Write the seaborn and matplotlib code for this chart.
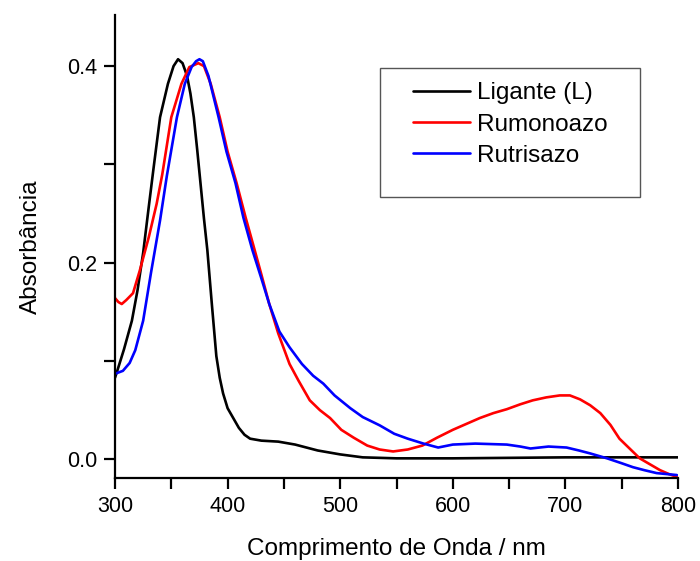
import numpy as np
import pandas as pd
import matplotlib
matplotlib.use("Agg")
import matplotlib.pyplot as plt
import seaborn as sns
from matplotlib.patches import Rectangle
from matplotlib.ticker import MultipleLocator, FormatStrFormatter

lig_wl = [300, 302, 308, 315, 320, 325, 330, 334, 340, 347, 352, 356, 360, 364, 367, 370, 373, 376,
          379, 382, 386, 390, 393, 396, 400, 405, 410, 415, 420, 430, 445, 460, 480, 500, 520, 550,
          600, 700, 800]
lig_a = [0.083, 0.09, 0.112, 0.141, 0.172, 0.21, 0.257, 0.294, 0.348, 0.382, 0.400, 0.407, 0.403,
         0.39, 0.372, 0.348, 0.315, 0.28, 0.245, 0.213, 0.158, 0.105, 0.083, 0.067, 0.052, 0.042,
         0.032, 0.025, 0.021, 0.019, 0.018, 0.015, 0.009, 0.005, 0.002, 0.001, 0.001, 0.002, 0.002]

rum_wl = [300, 303, 306, 310, 316, 322, 330, 337, 342, 350, 359, 366, 374, 379, 385, 393, 400, 408,
          416, 424, 430, 437, 445, 455, 463, 473, 482, 491, 501, 512, 524, 535, 547, 560, 573,
          586, 600, 612, 624, 636, 648, 660, 671, 683, 695, 704, 713, 722, 731, 740, 748, 757, 766,
          775, 784, 792, 799]
rum_a = [0.164, 0.160, 0.158, 0.162, 0.169, 0.192, 0.226, 0.26, 0.29, 0.348, 0.382, 0.399, 0.403,
         0.400, 0.382, 0.348, 0.313, 0.281, 0.246, 0.213, 0.188, 0.158, 0.128, 0.097, 0.080,
         0.060, 0.050, 0.042, 0.030, 0.022, 0.014, 0.010, 0.008, 0.010, 0.014, 0.022, 0.030, 0.036,
         0.042, 0.047, 0.051, 0.056, 0.060, 0.063, 0.065, 0.065, 0.061, 0.055, 0.047, 0.035, 0.021,
         0.011, 0.001, -0.005, -0.011, -0.015, -0.018]

rut_wl = [300, 307, 313, 318, 325, 332, 340, 346, 355, 362, 368, 372, 375, 378, 383, 392, 399, 407,
          414, 422, 430, 437, 446, 455, 466, 476, 485, 495, 509, 520, 535, 548, 560, 574, 587, 600,
          620, 648, 660, 669, 685, 701, 712, 722, 737, 750, 760, 770, 781, 790, 799]
rut_a = [0.087, 0.09, 0.098, 0.111, 0.141, 0.19, 0.243, 0.288, 0.348, 0.382, 0.399, 0.405, 0.407,
         0.405, 0.39, 0.348, 0.313, 0.281, 0.246, 0.213, 0.184, 0.158, 0.13, 0.114, 0.097, 0.085,
         0.077, 0.065, 0.052, 0.043, 0.0346, 0.026, 0.021, 0.016, 0.012, 0.015, 0.016, 0.015, 0.013,
         0.011, 0.013, 0.012, 0.009, 0.006, 0.001, -0.004, -0.008, -0.011, -0.014, -0.015, -0.016]

series_names = ["Ligante (L)", "Rumonoazo", "Rutrisazo"]
colors = ["#000000", "#ff0000", "#0000ff"]

df = pd.concat([
    pd.DataFrame({"wl": lig_wl, "A": lig_a, "s": series_names[0]}),
    pd.DataFrame({"wl": rum_wl, "A": rum_a, "s": series_names[1]}),
    pd.DataFrame({"wl": rut_wl, "A": rut_a, "s": series_names[2]}),
], ignore_index=True)

sns.set_style("ticks")
plt.rcParams["font.family"] = ["Liberation Sans", "DejaVu Sans"]
plt.rcParams["text.color"] = "black"
plt.rcParams["axes.labelcolor"] = "black"
plt.rcParams["xtick.color"] = "black"
plt.rcParams["ytick.color"] = "black"

W, H = 700, 561
fig = plt.figure(figsize=(W / 100, H / 100), dpi=100)
ax = fig.add_axes([115 / W, 83 / H, (678 - 115) / W, (478 - 15) / H])

sns.lineplot(data=df, x="wl", y="A", hue="s", palette=dict(zip(series_names, colors)),
             linewidth=1.9, ax=ax, sort=False, estimator=None)

ax.set_xlim(300, 800)
ax.set_ylim(-0.019, 0.452)
ax.xaxis.set_major_locator(MultipleLocator(100))
ax.xaxis.set_minor_locator(MultipleLocator(50))
ax.yaxis.set_major_locator(MultipleLocator(0.2))
ax.yaxis.set_minor_locator(MultipleLocator(0.1))
ax.yaxis.set_major_formatter(FormatStrFormatter("%.1f"))
for side in ["top", "right"]:
    ax.spines[side].set_visible(False)
for side in ["left", "bottom"]:
    ax.spines[side].set_linewidth(1.6)
    ax.spines[side].set_color("black")
ax.tick_params(which="both", direction="out", length=8, width=1.6, color="black",
               labelcolor="black", labelsize=15.5, pad=5)
ax.set_xlabel("Comprimento de Onda / nm", fontsize=17.5, labelpad=15, color="black")
ax.set_ylabel("Absorbância", fontsize=17.5, labelpad=18, color="black")

leg = ax.legend(loc="center left",
                bbox_to_anchor=(413 / W, (H - 124.5) / H), bbox_transform=fig.transFigure,
                frameon=False, fontsize=17.5, handlelength=2.35, handletextpad=0.3,
                labelspacing=0.37, borderaxespad=0, borderpad=0)
for line in leg.get_lines():
    line.set_linewidth(1.9)
for t in leg.get_texts():
    t.set_color("black")

fig.patches.append(Rectangle((380 / W, (H - 197) / H), 260 / W, 129 / H,
                             transform=fig.transFigure, fill=False,
                             edgecolor="#555555", linewidth=1.0, zorder=5))

fig.savefig("out.png", dpi=100)
